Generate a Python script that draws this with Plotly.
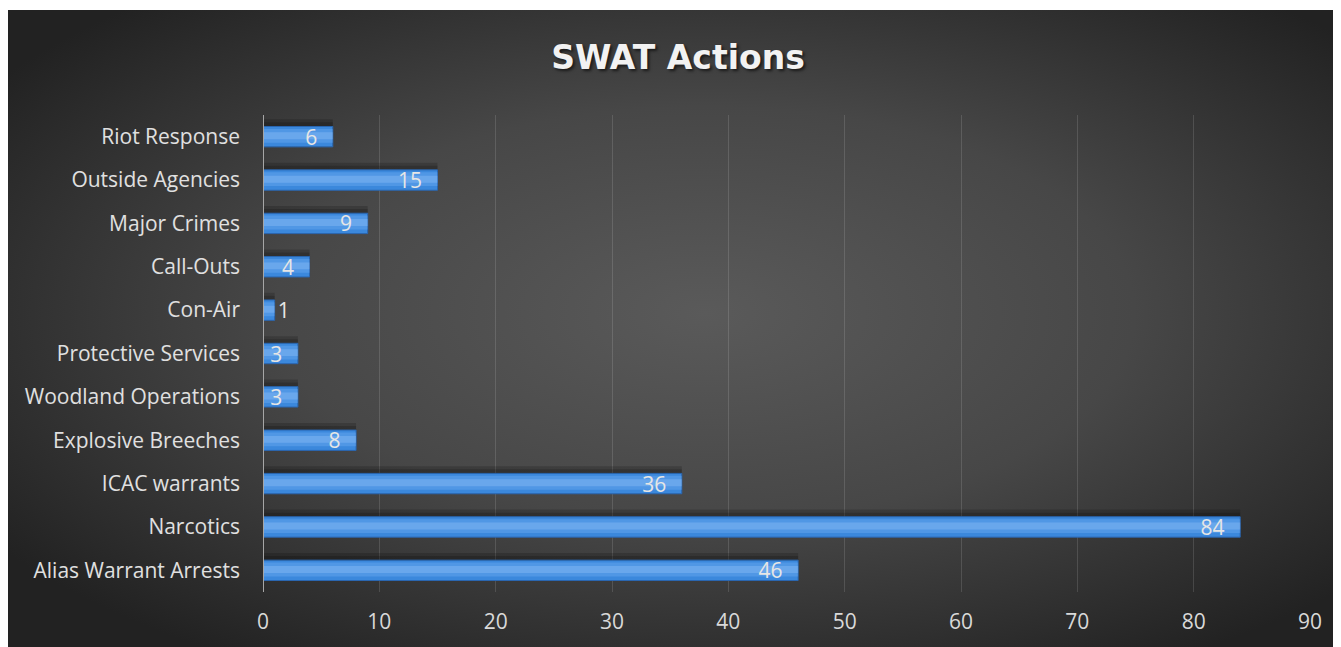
import base64
import plotly.graph_objects as go

# data (bottom to top, as drawn)
categories = ["Alias Warrant Arrests", "Narcotics", "ICAC warrants", "Explosive Breeches",
              "Woodland Operations", "Protective Services", "Con-Air", "Call-Outs",
              "Major Crimes", "Outside Agencies", "Riot Response"]
actions = [46, 84, 36, 8, 3, 3, 1, 4, 9, 15, 6]
x_ticks = [0, 10, 20, 30, 40, 50, 60, 70, 80, 90]

W, H = 1341, 647
L, R, T, B = 255, 39, 107, 63
pw, ph = W - L - R, H - T - B

# dark radial background as an svg image
svg = ('<svg xmlns="http://www.w3.org/2000/svg" width="1341" height="645">'
       '<defs><radialGradient id="g" cx="52%" cy="47%" r="64%">'
       '<stop offset="0" stop-color="#5a5a5a"/><stop offset="0.5" stop-color="#474747"/>'
       '<stop offset="1" stop-color="#222222"/></radialGradient></defs>'
       '<rect width="1341" height="645" fill="url(#g)"/></svg>')
bg_src = "data:image/svg+xml;base64," + base64.b64encode(svg.encode()).decode()

font = "Open Sans"
# labels that fit go inside the bar end, the tiny one goes outside
positions = ["inside" if v >= 2 else "outside" for v in actions]
labels = [f"{v}\u2002\u200a" for v in actions]

fig = go.Figure()
# soft shadow above the bars
for w in (0.62, 0.55):
    fig.add_trace(go.Bar(x=actions, y=categories, orientation="h", width=w, offset=-0.22,
                         marker=dict(color="rgba(0,0,0,0.17)", line=dict(width=0)),
                         hoverinfo="skip"))
# main bar
fig.add_trace(go.Bar(x=actions, y=categories, orientation="h", width=0.47,
                     marker=dict(color="#3b88dc", line=dict(color="#2a66b0", width=1)),
                     hoverinfo="skip"))
# light bands
fig.add_trace(go.Bar(x=actions, y=categories, orientation="h", width=0.32, offset=-0.14,
                     marker=dict(color="rgba(120,180,245,0.35)", line=dict(width=0)),
                     hoverinfo="skip"))
fig.add_trace(go.Bar(x=actions, y=categories, orientation="h", width=0.16, offset=-0.06,
                     marker=dict(color="rgba(165,205,252,0.3)", line=dict(width=0)),
                     hoverinfo="skip"))
# value labels
fig.add_trace(go.Bar(x=actions, y=categories, orientation="h", width=0.47,
                     marker=dict(color="rgba(0,0,0,0)", line=dict(width=0)),
                     text=labels, textposition=positions, insidetextanchor="end",
                     textangle=0, constraintext="none",
                     textfont=dict(family=font, size=21, color="#e6e6e6"),
                     cliponaxis=False,
                     hovertemplate="%{y}: %{x}<extra></extra>"))

fig.add_layout_image(dict(source=bg_src, xref="paper", yref="paper",
                          x=-L / pw, y=(H - B - 2) / ph,
                          sizex=W / pw, sizey=(H - 2) / ph,
                          xanchor="left", yanchor="top", sizing="stretch", layer="below"))

fig.update_layout(
    width=W, height=H,
    margin=dict(l=L, r=R, t=T, b=B),
    paper_bgcolor="white", plot_bgcolor="rgba(0,0,0,0)",
    barmode="overlay", showlegend=False,
    title=dict(text="<b>SWAT Actions</b>", x=(678 - 8) / W, xref="container", xanchor="center",
               y=1 - 49 / H, yref="container", yanchor="middle",
               font=dict(family="DejaVu Sans", size=33, color="#f2f2f2",
                         shadow="2px 2px 3px rgba(0,0,0,0.6)")),
    font=dict(family=font, size=21, color="#d9d9d9"),
    xaxis=dict(range=[0, 90], tickvals=x_ticks, showgrid=True,
               gridcolor="rgba(255,255,255,0.13)", gridwidth=1,
               zeroline=False, showline=False, ticks="", ticklabelstandoff=15,
               tickfont=dict(family=font, size=21, color="#d9d9d9")),
    yaxis=dict(categoryorder="array", categoryarray=categories, showgrid=False, ticks="",
               showline=False, zeroline=False, ticklabelstandoff=22,
               tickfont=dict(family=font, size=21, color="#e0e0e0")),
    shapes=[dict(type="line", xref="x", yref="paper", x0=0, x1=0, y0=0, y1=1,
                 line=dict(color="#a6a6a6", width=2))],
)

fig.write_html("out.html")
